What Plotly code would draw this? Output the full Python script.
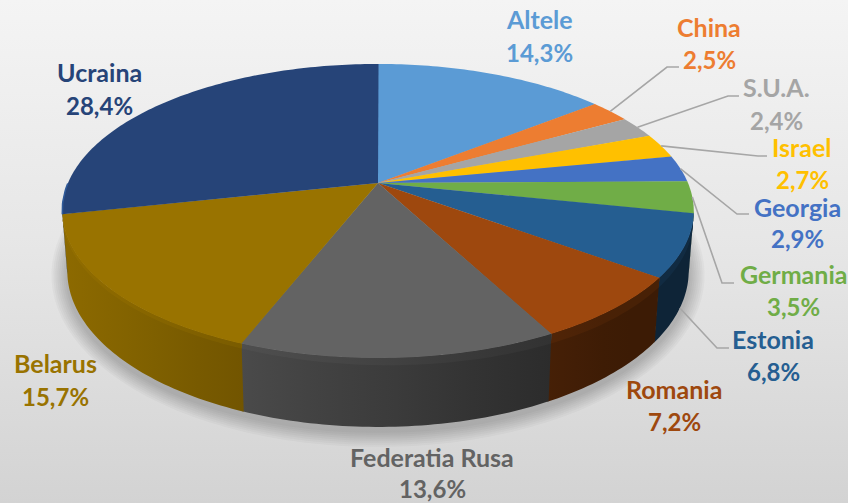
import math
import plotly.graph_objects as go

# ---- data ----
categories = ["Altele", "China", "S.U.A.", "Israel", "Georgia", "Germania",
              "Estonia", "Romania", "Federatia Rusa", "Belarus", "Ucraina"]
values = [14.3, 2.5, 2.4, 2.7, 2.9, 3.5, 6.8, 7.2, 13.6, 15.7, 28.4]

# ---- style ----
colors = ["#5b9bd5", "#ed7d31", "#a5a5a5", "#ffc000", "#4472c4", "#70ad47",
          "#255e91", "#9e480e", "#636363", "#997300", "#264478"]
name_pos = [(539, 19), (709, 27), (776, 87), (802, 147), (797, 207), (793, 274),
            (773, 339), (674, 389), (432, 457), (55, 363), (99, 72)]
pct_pos = [(539, 52), (709, 59), (776, 120), (802, 179), (797, 238), (793, 306),
           (773, 371), (674, 421), (432, 488), (55, 396), (99, 105)]
# leader-line elbows: category -> (elbow, end)
leaders = {"China": ((667, 67), (679, 67)), "S.U.A.": ((728, 96), (739, 96)),
           "Israel": ((758, 156), (767, 156)), "Georgia": ((737, 214), (749, 214)),
           "Germania": ((722, 283), (734, 283)), "Estonia": ((717, 348), (729, 348))}
FONT = "Lato"
FS_NAME = 25
FS_PCT = 24

# ---- projection of the tilted disc ----
CX, CY, A, B, K = 378.0, 183.0, 310.0, 141.7, 0.19
LOW_X, LOW_Y, LOW_Y0 = 0.984, 1.06, 241.5


def top(t):
    u, v = math.sin(t), math.cos(t)
    d = 1 + K * v
    return CX + A * u / d, CY - B * v / d


def low(t):
    u, v = math.sin(t), math.cos(t)
    d = 1 + K * v
    return CX + LOW_X * A * u / d, LOW_Y0 - LOW_Y * B * v / d


def rim(t, f):
    a, b = top(t), low(t)
    return a[0] + (b[0] - a[0]) * f, a[1] + (b[1] - a[1]) * f


def arc(t0, t1, step=math.radians(1.0)):
    n = max(2, int(abs(t1 - t0) / step) + 1)
    return [t0 + (t1 - t0) * i / (n - 1) for i in range(n)]


def rgb(h):
    return tuple(int(h[i:i + 2], 16) for i in (1, 3, 5))


def css(c):
    return "rgb(%d,%d,%d)" % tuple(max(0, min(255, round(x))) for x in c)


def scaled(h, f):
    return tuple(x * f for x in rgb(h))


def body_shade(x):
    return max(0.38, 0.92 - (x - 62) * 0.00098)


def edge_gain(x):
    if x < 300:
        return 1.2
    if x > 480:
        return 1.0
    return 1.2 - 0.2 * (x - 300) / 180


def fade_depth(x):
    return 0.06 + 0.10 * max(0, min(1, (x - 200) / 400))


fig = go.Figure()


def poly(xs, ys, **kw):
    fig.add_trace(go.Scatter(x=xs + xs[:1], y=ys + ys[:1], mode="none", fill="toself",
                             hoverinfo="skip", showlegend=False, **kw))


# background
poly([0, 848, 848, 0], [0, 0, 503, 503],
     fillgradient=dict(type="vertical", start=0, stop=503,
                       colorscale=[[0, "#f4f4f4"], [0.5, "#e6e6e6"], [1, "#d3d3d3"]]),
     fillcolor="#e6e6e6")

# soft shadow
for i in range(8, 0, -1):
    ang = arc(0, 2 * math.pi, math.radians(3))
    pts = [low(t) for t in ang]
    grow = i * 2.0
    xs = [CX + (p[0] - CX) * (311 + grow) / 311 for p in pts]
    ys = [271 + 4 + (p[1] - 271) * (156 + grow) / 156 for p in pts]
    poly(xs, ys, fillcolor="rgba(0,0,0,0.028)")

# slice angles from the values
total = sum(values)
edges = [0.0]
for v in values:
    edges.append(edges[-1] + v / total * 2 * math.pi)

VIS0, VIS1 = math.radians(101), math.radians(259)
BANDS = [1.0, 0.8, 0.6, 0.4, 0.25, 0.12]

# rim: gradient bands, painted from deepest to shallowest
for i, col in enumerate(colors):
    t0, t1 = max(edges[i], VIS0), min(edges[i + 1], VIS1)
    if t1 <= t0:
        continue
    ang = arc(t0, min(t1 + 0.004, VIS1))
    px = [top(t)[0] for t in ang] + [low(t)[0] for t in ang]
    xmin, xmax = min(px), max(px)

    def grad(fn):
        stops = []
        for s in range(5):
            f = s / 4
            x = xmin + (xmax - xmin) * f
            stops.append([f, css(fn(x))])
        return dict(type="horizontal", start=xmin, stop=xmax, colorscale=stops)

    upper = [top(t) for t in ang]
    lower = [low(t) for t in reversed(ang)]
    poly([p[0] for p in upper + lower], [p[1] for p in upper + lower],
         fillgradient=grad(lambda x: scaled(col, body_shade(x))), fillcolor=col)

    for w in BANDS:
        def band_col(x, w=w):
            s = body_shade(x)
            g = edge_gain(x)
            return tuple(c * (s + (g - s) * w) for c in rgb(col))

        def depth_at(t, w=w):
            x = top(t)[0]
            return fade_depth(x) * (1 - w) + 0.012

        up = [top(t) for t in ang]
        dn = [rim(t, depth_at(t)) for t in reversed(ang)]
        poly([p[0] for p in up + dn], [p[1] for p in up + dn],
             fillgradient=grad(band_col), fillcolor=col)

# top face
for i, col in enumerate(colors):
    ang = arc(edges[i], edges[i + 1] + 0.002)
    pts = [(CX, CY)] + [top(t) for t in ang]
    poly([p[0] for p in pts], [p[1] for p in pts], fillcolor=col)

# lighter lip on the left end of the largest slice
lip = [top(t) for t in arc(edges[10], edges[10] + math.radians(12))]
fig.add_trace(go.Scatter(x=[p[0] for p in lip], y=[p[1] for p in lip], mode="lines",
                         line=dict(color="#2f5a99", width=1.6), hoverinfo="skip", showlegend=False))

# leader lines
for name, (elbow, end) in leaders.items():
    i = categories.index(name)
    mid = (edges[i] + edges[i + 1]) / 2
    start = low(mid) if name == "Estonia" else top(mid)
    fig.add_trace(go.Scatter(x=[start[0], elbow[0], end[0]], y=[start[1], elbow[1], end[1]],
                             mode="lines", line=dict(color="#a6a6a6", width=1.6),
                             hoverinfo="skip", showlegend=False))

# labels
annotations = []
for name, v, col, np_, pp in zip(categories, values, colors, name_pos, pct_pos):
    pct = f"{v:.1f}".replace(".", ",") + "%"
    for txt, pos, fs in ((name, np_, FS_NAME), (pct, pp, FS_PCT)):
        annotations.append(dict(x=pos[0], y=pos[1], xref="x", yref="y", text=f"<b>{txt}</b>",
                                showarrow=False, xanchor="center", yanchor="middle",
                                font=dict(family=FONT, size=fs, color=col)))

fig.update_layout(
    width=848, height=503, margin=dict(l=0, r=0, t=0, b=0),
    paper_bgcolor="#e6e6e6", plot_bgcolor="#e6e6e6", showlegend=False,
    xaxis=dict(range=[0, 848], visible=False, fixedrange=True),
    yaxis=dict(range=[503, 0], visible=False, fixedrange=True),
    annotations=annotations,
)
fig.write_html("out.html", config={"displayModeBar": False},
               post_script="document.body.style.margin='0';document.body.style.overflow='hidden';")
